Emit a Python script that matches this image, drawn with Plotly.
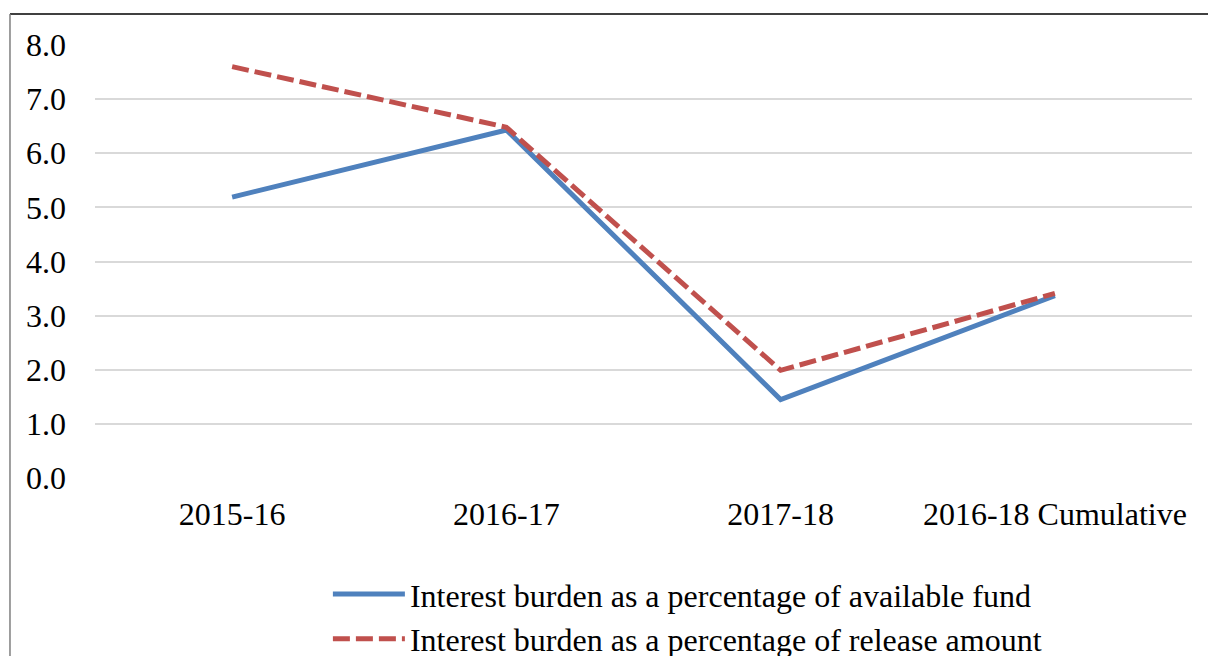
import plotly.graph_objects as go

# Periods on the category axis
periods = ["2015-16", "2016-17", "2017-18", "2016-18 Cumulative"]

# Interest burden (%) for each period
pct_available_fund = [5.19, 6.43, 1.45, 3.37]
pct_release_amount = [7.60, 6.48, 1.99, 3.41]

series_names = [
    "Interest burden as a percentage of available fund",
    "Interest burden as a percentage of release amount",
]

y_ticks = [0, 1, 2, 3, 4, 5, 6, 7, 8]

FONT = "Liberation Serif, Times New Roman, serif"
FS = 32

fig = go.Figure()
fig.add_trace(go.Scatter(
    x=periods, y=pct_available_fund, name=series_names[0], mode="lines",
    line=dict(color="#4f81bd", width=5),
))
fig.add_trace(go.Scatter(
    x=periods, y=pct_release_amount, name=series_names[1], mode="lines",
    line=dict(color="#c0504d", width=5, dash="17px,6px"),
))

# Outer frame of the chart: dark top edge, grey left edge
fig.add_shape(type="line", xref="paper", yref="paper",
              x0=-0.0775, x1=1.02, y0=1.0716, y1=1.0716,
              line=dict(color="#000000", width=1.5))
fig.add_shape(type="line", xref="paper", yref="paper",
              x0=-0.0775, x1=-0.0775, y0=1.0716, y1=-0.5,
              line=dict(color="#7f7f7f", width=1.5))

fig.update_layout(
    width=1208, height=656,
    margin=dict(l=95, r=16, t=45, b=178, autoexpand=False),
    paper_bgcolor="white", plot_bgcolor="white",
    font=dict(family=FONT, size=FS, color="#000000"),
    showlegend=True,
    legend=dict(
        orientation="v", x=0.2123, xanchor="left", y=-0.205, yanchor="top",
        font=dict(family=FONT, size=FS), itemwidth=72,
        tracegroupgap=0, bgcolor="rgba(0,0,0,0)",
    ),
    xaxis=dict(
        type="category", range=[-0.5, 3.5], showgrid=False, zeroline=False,
        showline=False, ticks="", ticklabelstandoff=14, automargin=False,
        tickfont=dict(family=FONT, size=FS),
    ),
    yaxis=dict(
        range=[0, 8], tickvals=y_ticks, tickformat=".1f",
        showgrid=True, gridcolor="#d9d9d9", gridwidth=1.5,
        zeroline=False, showline=False, ticks="", ticklabelstandoff=28,
        automargin=False, tickfont=dict(family=FONT, size=FS),
    ),
)

fig.write_html("out.html")
